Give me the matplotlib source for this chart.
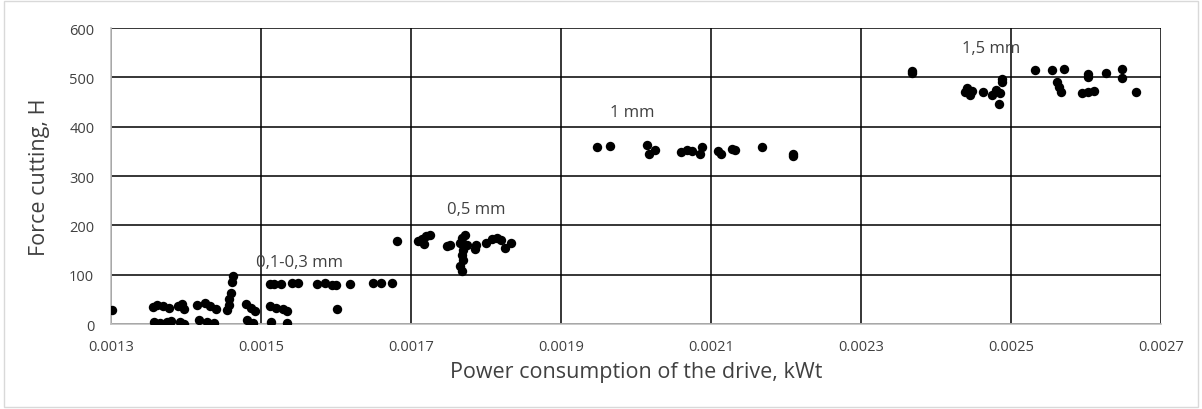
import matplotlib
matplotlib.use("Agg")
import matplotlib.pyplot as plt
from matplotlib.patches import Rectangle

# power consumption of the drive, kWt
power = [
    0.001302,
    0.001356, 0.001362, 0.001370, 0.001378, 0.001358, 0.001366, 0.001375, 0.001380,
    0.001390, 0.001395, 0.001398, 0.001392, 0.001398,
    0.001415, 0.001425, 0.001432, 0.001440, 0.001418, 0.001428, 0.001438,
    0.001455, 0.001457, 0.001458, 0.001460, 0.001462, 0.001463,
    0.001480, 0.001487, 0.001492, 0.001482, 0.001490,
    0.001512, 0.001518, 0.001527, 0.001542, 0.001550, 0.001575, 0.001585, 0.001595,
    0.001600, 0.001619, 0.001650, 0.001660, 0.001675,
    0.001512, 0.001520, 0.001530, 0.001535, 0.001513, 0.001535, 0.001601,
    0.001681,
    0.001710, 0.001715, 0.001720, 0.001725, 0.001718,
    0.001748, 0.001752,
    0.001765, 0.001768, 0.001772, 0.001770, 0.001768, 0.001770, 0.001766, 0.001768, 0.001775,
    0.001785, 0.001787,
    0.001800, 0.001808, 0.001815, 0.001820, 0.001826, 0.001833,
    0.001948, 0.001965, 0.002015, 0.002018, 0.002025, 0.002060, 0.002068, 0.002075,
    0.002085, 0.002088, 0.002110, 0.002113, 0.002128, 0.002132, 0.002168, 0.002210, 0.002210,
    0.002368, 0.002368,
    0.002439, 0.002442, 0.002446, 0.002448, 0.002463, 0.002474, 0.002480, 0.002485,
    0.002484, 0.002488, 0.002488,
    0.002532, 0.002555, 0.002570, 0.002561, 0.002564, 0.002567,
    0.002595, 0.002603, 0.002610, 0.002602, 0.002602, 0.002627, 0.002648, 0.002648, 0.002667,
]

# force cutting, H
force = [
    28,
    35, 38, 36, 33, 5, 3, 4, 6,
    36, 40, 30, 5, 1,
    38, 42, 36, 30, 8, 5, 2,
    28, 38, 50, 63, 85, 97,
    40, 32, 26, 8, 3,
    82, 82, 82, 83, 83, 82, 83, 80,
    80, 82, 83, 83, 83,
    36, 33, 30, 27, 5, 2, 31,
    168,
    168, 172, 178, 180, 162,
    158, 160,
    165, 175, 180, 150, 140, 130, 118, 108, 160,
    152, 160,
    165, 172, 175, 170, 155, 165,
    358, 360, 362, 345, 352, 348, 352, 350,
    345, 358, 350, 345, 355, 352, 358, 345, 340,
    508, 514,
    470, 478, 465, 472, 470, 465, 475, 468,
    446, 490, 497,
    515, 515, 517, 490, 480, 470,
    468, 470, 473, 500, 507, 508, 517, 498, 470,
]

labels = ["0,1-0,3 mm", "0,5 mm", "1 mm", "1,5 mm"]
label_x = [0.001552, 0.001787, 0.001995, 0.002473]
label_y = [126, 233, 430, 559]

font = "Open Sans"
grey = "#404040"

fig = plt.figure(figsize=(12.02, 4.10), dpi=100)
fig.patches.append(Rectangle((0.003, 0.005), 0.994, 0.99, transform=fig.transFigure,
                             fill=False, edgecolor="#d9d9d9", linewidth=1))
ax = fig.add_axes([0.0923, 0.2073, 0.8736, 0.7217])

ax.scatter(power, force, s=46, color="black", zorder=3, linewidths=0)

for text, lx, ly in zip(labels, label_x, label_y):
    ax.text(lx, ly, text, ha="center", va="center", fontsize=12,
            family=font, color=grey, zorder=4)

ax.set_xlim(0.0013, 0.0027)
ax.set_ylim(0, 600)
ax.set_xticks([0.0013 + 0.0002 * i for i in range(8)])
ax.set_xticklabels(["%.4f" % (0.0013 + 0.0002 * i) for i in range(8)])
ax.set_yticks(range(0, 601, 100))

ax.grid(True, color="black", linewidth=1.1, zorder=1)
ax.set_axisbelow(True)
for side in ["top", "right"]:
    ax.spines[side].set_visible(False)
for side in ["left", "bottom"]:
    ax.spines[side].set_color("#bfbfbf")
    ax.spines[side].set_linewidth(1.2)
ax.tick_params(axis="x", length=0, pad=11, labelsize=10.5, labelcolor=grey)
ax.tick_params(axis="y", length=0, pad=12, labelsize=10.5, labelcolor=grey)
for lbl in ax.get_xticklabels() + ax.get_yticklabels():
    lbl.set_family(font)

ax.set_xlabel("Power consumption of the drive, kWt", fontsize=15.5, family=font,
              color=grey, labelpad=5)
ax.set_ylabel("Force cutting, H", fontsize=15.5, family=font, color=grey, labelpad=14)

fig.savefig("out.png", dpi=100)
